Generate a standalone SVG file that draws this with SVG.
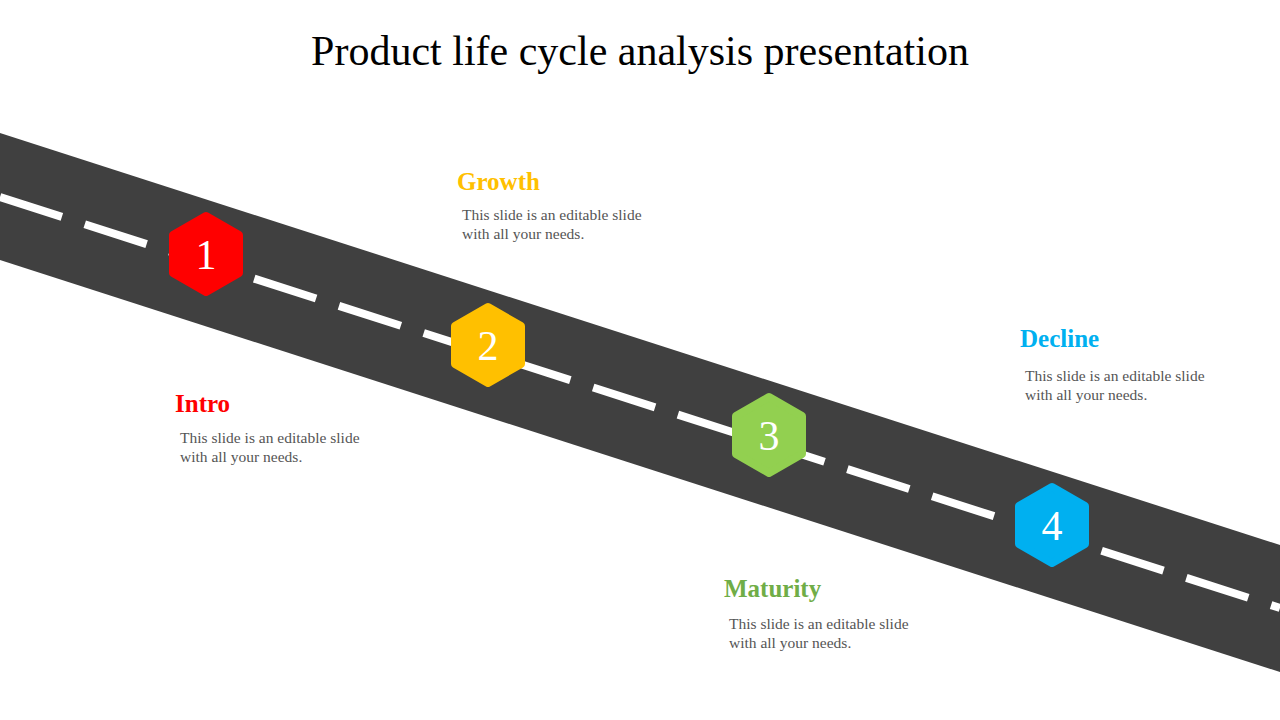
<svg xmlns="http://www.w3.org/2000/svg" width="1280" height="720" viewBox="0 0 1280 720">
<style>
.hex{stroke-linejoin:round;stroke-width:8}
.num{font-family:"Liberation Serif",serif;font-size:42px;fill:#fff;text-anchor:middle}
.h{font-family:"Liberation Serif",serif;font-size:25px;font-weight:bold}
.d{font-family:"Liberation Serif",serif;font-size:15.5px;fill:#555}
</style>
<defs><polygon id="hx" points="0,-38 33,-19 33,19 0,38 -33,19 -33,-19"/></defs>
<rect width="1280" height="720" fill="#fff"/>
<text x="640" y="65" text-anchor="middle" font-family="Liberation Serif,serif" font-size="42" fill="#000">Product life cycle analysis presentation</text>
<g id="connectors">
<polygon points="0,133 1280,545 1280,672 0,260" fill="#404040"/>
<line x1="0" y1="197" x2="1280" y2="608" stroke="#fff" stroke-width="8" stroke-dasharray="65 24"/>
</g>
<g id="n1"><use href="#hx" x="206" y="254" class="hex" fill="#ff0000" stroke="#ff0000"/><text class="num" x="206" y="269">1</text>
<text class="h" x="175" y="412" fill="#ff0000">Intro</text><text class="d" x="180" y="443">This slide is an editable slide</text><text class="d" x="180" y="462">with all your needs.</text></g>
<g id="n2"><use href="#hx" x="488" y="345" class="hex" fill="#ffc000" stroke="#ffc000"/><text class="num" x="488" y="360">2</text>
<text class="h" x="457" y="190" fill="#ffc000">Growth</text><text class="d" x="462" y="220">This slide is an editable slide</text><text class="d" x="462" y="239">with all your needs.</text></g>
<g id="n3"><use href="#hx" x="769" y="435" class="hex" fill="#92d050" stroke="#92d050"/><text class="num" x="769" y="450">3</text>
<text class="h" x="724" y="597" fill="#70ad47">Maturity</text><text class="d" x="729" y="629">This slide is an editable slide</text><text class="d" x="729" y="648">with all your needs.</text></g>
<g id="n4"><use href="#hx" x="1052" y="525" class="hex" fill="#00b0f0" stroke="#00b0f0"/><text class="num" x="1052" y="540">4</text>
<text class="h" x="1020" y="347" fill="#00b0f0">Decline</text><text class="d" x="1025" y="381">This slide is an editable slide</text><text class="d" x="1025" y="400">with all your needs.</text></g>
</svg>
